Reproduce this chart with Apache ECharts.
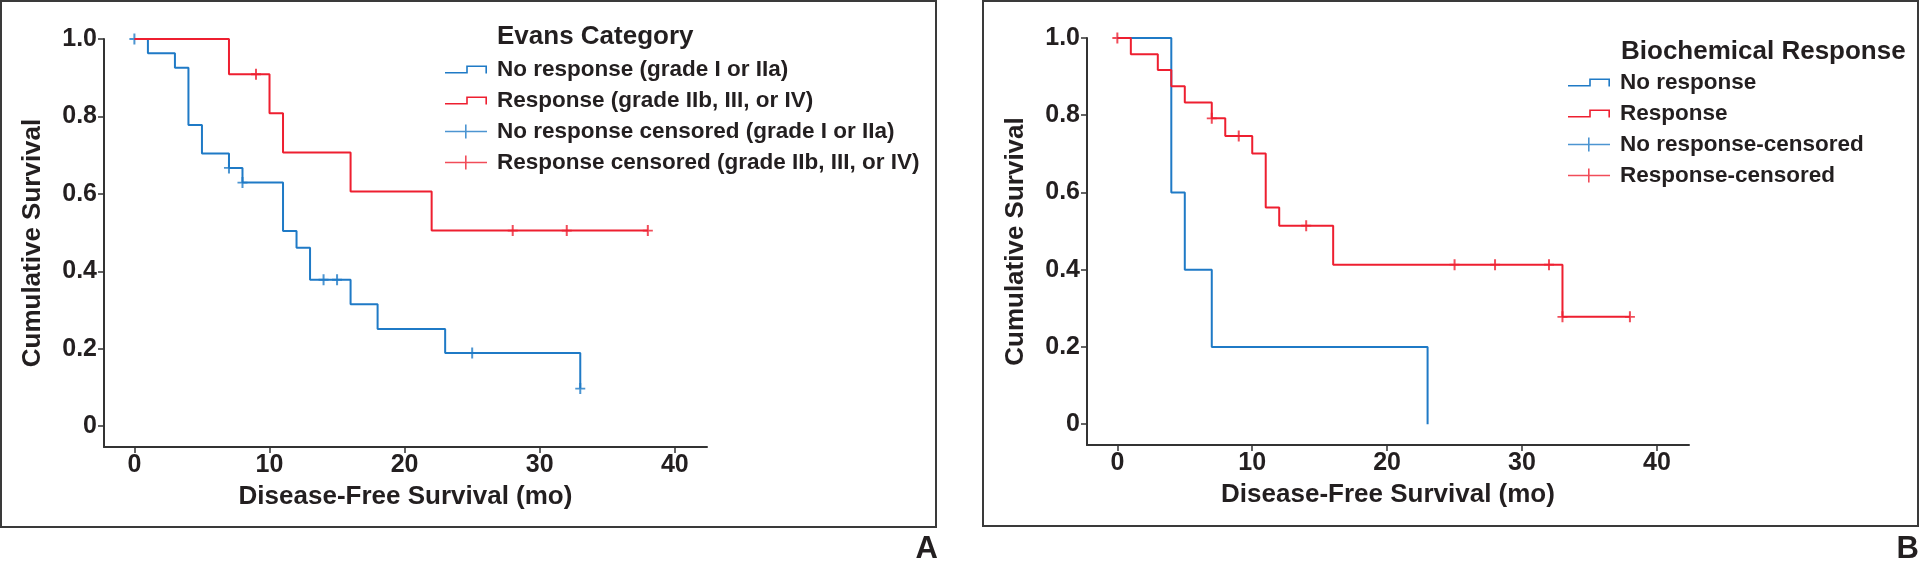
<!DOCTYPE html>
<html>
<head>
<meta charset="utf-8">
<script src="https://cdn.jsdelivr.net/npm/echarts@6/dist/echarts.min.js"></script>
<style>
html,body{margin:0;padding:0;background:#fff;}
#chart{width:1920px;height:561px;}
</style>
</head>
<body>
<div id="chart"></div>
<script>
// ---- tick labels ----
const xTicks = [0, 10, 20, 30, 40];
const yTicks = [0, 0.2, 0.4, 0.6, 0.8, 1.0];
const yTickLabels = ['0', '0.2', '0.4', '0.6', '0.8', '1.0'];

// ---- Panel A: Evans Category ----
const evansNoRespTime = [0, 1, 3, 4, 5, 7, 8, 11, 12, 13, 16, 18, 23, 33];
const evansNoRespSurv = [1, 0.963, 0.926, 0.778, 0.704, 0.667, 0.629, 0.504, 0.461, 0.378, 0.315, 0.251, 0.189, 0.097];
const evansRespTime = [0, 7, 10, 11, 16, 22, 38];
const evansRespSurv = [1, 0.909, 0.808, 0.707, 0.606, 0.505, 0.505];
const evansNoRespCensTime = [0, 7, 8, 14, 15, 25, 33];
const evansNoRespCensSurv = [1, 0.667, 0.629, 0.378, 0.378, 0.189, 0.097];
const evansRespCensTime = [9, 28, 32, 38];
const evansRespCensSurv = [0.909, 0.505, 0.505, 0.505];

// ---- Panel B: Biochemical Response ----
const bioNoRespTime = [0, 4, 5, 7, 23];
const bioNoRespSurv = [1, 0.6, 0.4, 0.2, 0];
const bioRespTime = [0, 1, 3, 4, 5, 7, 8, 10, 11, 12, 16, 33, 38];
const bioRespSurv = [1, 0.958, 0.917, 0.875, 0.833, 0.792, 0.746, 0.701, 0.561, 0.514, 0.413, 0.278, 0.278];
const bioRespCensTime = [0, 7, 9, 14, 25, 28, 32, 33, 38];
const bioRespCensSurv = [1, 0.792, 0.746, 0.514, 0.413, 0.413, 0.413, 0.278, 0.278];

const namesA = ['No response (grade I or IIa)', 'Response (grade IIb, III, or IV)',
  'No response censored (grade I or IIa)', 'Response censored (grade IIb, III, or IV)'];
const namesB = ['No response', 'Response', 'No response-censored', 'Response-censored'];
const legendTitles = ['Evans Category', 'Biochemical Response'];
const axisNames = ['Disease-Free Survival (mo)', 'Cumulative Survival'];
const panelLetters = ['A', 'B'];

const BLUE = '#1f7ac6';
const RED = '#ee1f30';
const INK = '#231f20';
const FONT = '"Liberation Sans", Arial, Helvetica, sans-serif';

const zip = (a, b) => a.map((v, i) => [v, b[i]]);
const stepIcon = 'path://M0,6.4L22.8,6.4L22.8,8L0,8Z M21.2,0L22.8,0L22.8,8L21.2,8Z M21.2,0L42,0L42,1.6L21.2,1.6Z M40.4,0L42,0L42,8L40.4,8Z';
const plusIcon = 'path://M0,6.2L42,6.2L42,7.8L0,7.8Z M20,0L21.6,0L21.6,14L20,14Z';
const censorSym = 'path://M0,4.6L10,4.6L10,6.4L0,6.4Z M4,0L6,0L6,11L4,11Z';

function yFmt(v) {
  const i = yTicks.findIndex(t => Math.abs(t - v) < 1e-6);
  return i >= 0 ? yTickLabels[i] : '';
}

function xAxisCfg(idx) {
  return {
    type: 'value', gridIndex: idx, min: -2.25, max: 42.38,
    name: axisNames[0], nameLocation: 'middle', nameGap: 37,
    nameTextStyle: { fontSize: 26, fontWeight: 'bold', color: INK, fontFamily: FONT },
    axisLine: { show: true, onZero: false, lineStyle: { color: '#333', width: 2 } },
    axisTick: { show: true, length: 6, customValues: xTicks, lineStyle: { color: '#333', width: 1.5 } },
    axisLabel: { customValues: xTicks, margin: 6, fontSize: 25, fontWeight: 'bold', color: INK, fontFamily: FONT },
    splitLine: { show: false }
  };
}
function yAxisCfg(idx) {
  return {
    type: 'value', gridIndex: idx, min: -0.054, max: 1.0,
    name: axisNames[1], nameLocation: 'middle', nameGap: 58,
    nameTextStyle: { fontSize: 26, fontWeight: 'bold', color: INK, fontFamily: FONT },
    axisLine: { show: true, onZero: false, lineStyle: { color: '#333', width: 2 } },
    axisTick: { show: true, length: 6, customValues: yTicks, lineStyle: { color: '#333', width: 1.5 } },
    axisLabel: { customValues: yTicks, formatter: yFmt, margin: 7, fontSize: 25, fontWeight: 'bold', color: INK, fontFamily: FONT },
    splitLine: { show: false }
  };
}
function lineSeries(name, idx, t, s, color) {
  return {
    type: 'line', name: name, xAxisIndex: idx, yAxisIndex: idx, step: 'end',
    data: zip(t, s), symbol: 'none', showSymbol: false,
    lineStyle: { color: color, width: 2 }, itemStyle: { color: color }, animation: false
  };
}
function censorSeries(name, idx, t, s, color) {
  return {
    type: 'scatter', name: name, xAxisIndex: idx, yAxisIndex: idx,
    data: zip(t, s), symbol: censorSym, symbolSize: [10, 11],
    itemStyle: { color: color, borderWidth: 0 }, animation: false
  };
}
function legendCfg(names, left, top) {
  return {
    orient: 'vertical', left: left, top: top, padding: 0, itemGap: 8,
    itemWidth: 42, itemHeight: 14, selectedMode: false,
    itemStyle: { borderWidth: 0 },
    textStyle: { fontSize: 22.5, fontWeight: 'bold', color: INK, fontFamily: FONT, lineHeight: 22, padding: [0, 0, 0, 5] },
    data: [
      { name: names[0], icon: stepIcon },
      { name: names[1], icon: stepIcon },
      { name: names[2], icon: plusIcon },
      { name: names[3], icon: plusIcon }
    ]
  };
}

const chart = echarts.init(document.getElementById('chart'), null, { renderer: 'canvas' });
chart.setOption({
  backgroundColor: '#fff',
  animation: false,
  title: [
    { text: legendTitles[0], left: 497, top: 24, padding: 0, textStyle: { fontSize: 26, fontWeight: 'bold', color: INK, fontFamily: FONT } },
    { text: legendTitles[1], left: 1621, top: 39, padding: 0, textStyle: { fontSize: 26, fontWeight: 'bold', color: INK, fontFamily: FONT } }
  ],
  legend: [legendCfg(namesA, 445, 58), legendCfg(namesB, 1568, 71)],
  grid: [
    { left: 104, top: 39, width: 603, height: 408, outerBoundsMode: 'none', containLabel: false },
    { left: 1087, top: 38, width: 602, height: 407, outerBoundsMode: 'none', containLabel: false }
  ],
  xAxis: [xAxisCfg(0), xAxisCfg(1)],
  yAxis: [yAxisCfg(0), yAxisCfg(1)],
  series: [
    lineSeries(namesA[0], 0, evansNoRespTime, evansNoRespSurv, BLUE),
    lineSeries(namesA[1], 0, evansRespTime, evansRespSurv, RED),
    censorSeries(namesA[2], 0, evansNoRespCensTime, evansNoRespCensSurv, BLUE),
    censorSeries(namesA[3], 0, evansRespCensTime, evansRespCensSurv, RED),
    lineSeries(namesB[0], 1, bioNoRespTime, bioNoRespSurv, BLUE),
    lineSeries(namesB[1], 1, bioRespTime, bioRespSurv, RED),
    censorSeries(namesB[3], 1, bioRespCensTime, bioRespCensSurv, RED),
    { type: 'scatter', name: namesB[2], xAxisIndex: 1, yAxisIndex: 1, data: [], symbol: censorSym, itemStyle: { color: BLUE } }
  ],
  graphic: [
    { type: 'rect', shape: { x: 1, y: 1, width: 935, height: 526 }, style: { fill: 'none', stroke: '#3a3a3a', lineWidth: 2 }, silent: true },
    { type: 'rect', shape: { x: 983, y: 1, width: 935, height: 525 }, style: { fill: 'none', stroke: '#3a3a3a', lineWidth: 2 }, silent: true },
    { type: 'text', x: 938, y: 534, style: { text: panelLetters[0], align: 'right', verticalAlign: 'top', font: 'bold 31px ' + FONT, fill: INK }, silent: true },
    { type: 'text', x: 1919, y: 534, style: { text: panelLetters[1], align: 'right', verticalAlign: 'top', font: 'bold 31px ' + FONT, fill: INK }, silent: true }
  ]
});
</script>
</body>
</html>
